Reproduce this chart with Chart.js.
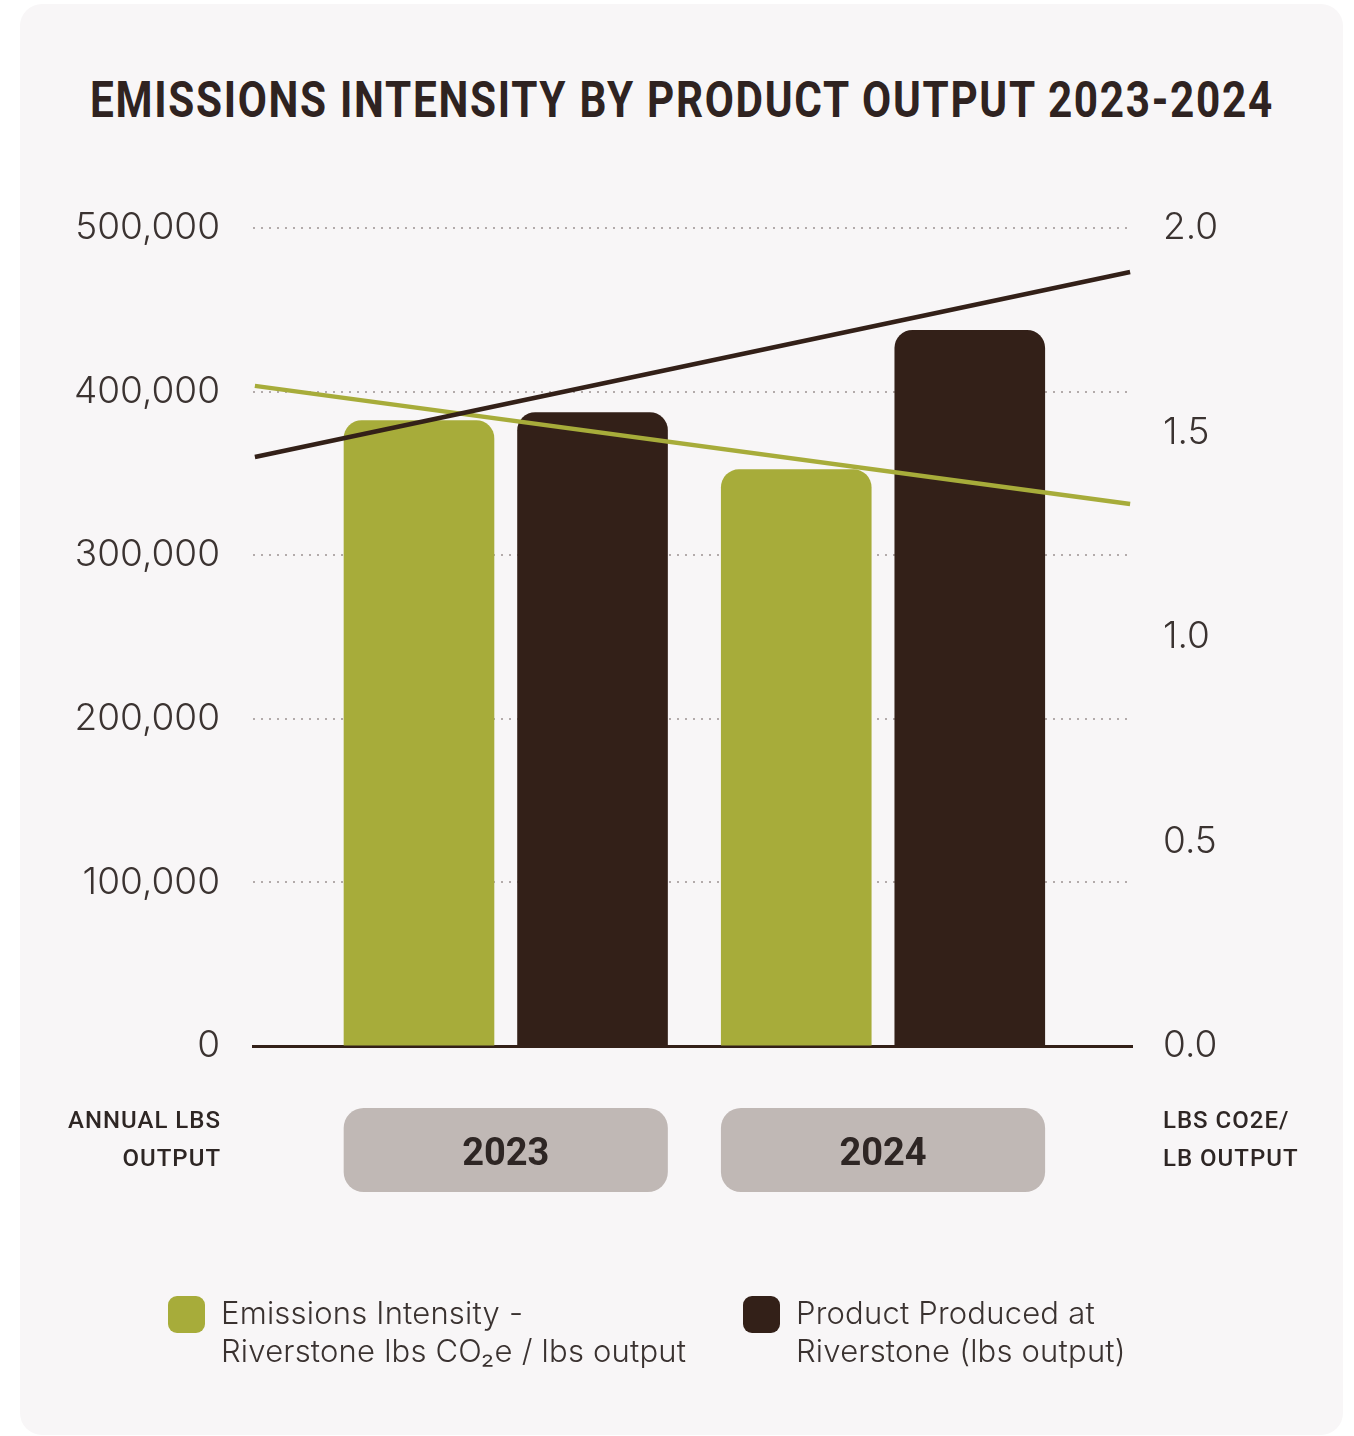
<!DOCTYPE html>
<html>
<head>
<meta charset="utf-8">
<script src="https://cdn.jsdelivr.net/npm/chart.js@4.4.1/dist/chart.umd.min.js"></script>
<style>
  body { margin: 0; background: #ffffff; font-family: Roboto, sans-serif; overflow: hidden; }
  .card { position: absolute; left: 20px; top: 4px; width: 1323px; height: 1431px; background: #f8f6f7; border-radius: 22px; }
  .title { position: absolute; left: -318px; top: 75px; width: 2000px; text-align: center; }
  .title span { display: inline-block; font-family: Roboto, sans-serif; font-weight: 700; font-size: 50px; line-height: 50px; letter-spacing: 2px; color: #2f2321; white-space: nowrap; transform-origin: center; }
  #chart { position: absolute; left: 0; top: 0; }
  .legend-item { position: absolute; top: 1294px; }
  .legend-item .box { position: absolute; left: 0; top: 2px; width: 37px; height: 37px; border-radius: 9px; }
  .legend-item .txt { position: absolute; left: 53px; top: 0; font-family: Inter, sans-serif; font-weight: 300; font-size: 31px; line-height: 38px; letter-spacing: 0.2px; color: #3a3230; white-space: nowrap; }
</style>
</head>
<body>
<div class="card"></div>
<div class="title"><span id="title">EMISSIONS INTENSITY BY PRODUCT OUTPUT 2023-2024</span></div>
<canvas id="chart" width="1354" height="1436"></canvas>
<div class="legend-item" id="leg0" style="left:168px"><div class="box"></div><div class="txt"></div></div>
<div class="legend-item" id="leg1" style="left:743px"><div class="box"></div><div class="txt"></div></div>
<script>
// data
const years = [2023, 2024]
const intensity = [1.53, 1.41]          // lbs CO2e / lb output (right axis)
const product = [387400, 437700]        // annual lbs output (left axis)
const trendX = [2022.335, 2024.655]
const intensityTrend = [1.614, 1.325]
const productTrend = [360000, 473100]
const leftTicks = [0, 100000, 200000, 300000, 400000, 500000]
const rightTicks = [0, 0.5, 1.0, 1.5, 2.0]
const leftTitle = ['ANNUAL LBS', 'OUTPUT']
const rightTitle = ['LBS CO2E/', 'LB OUTPUT']
const legendText = [
    ['Emissions Intensity -', 'Riverstone lbs CO\u2082e / lbs output'],
    ['Product Produced at', 'Riverstone (lbs output)']
]

const green = '#a7ac3a'
const brown = '#332018'
const textColor = '#3b3331'

// squeeze the title to the width it has in the reference
const titleEl = document.getElementById('title')
titleEl.style.transform = 'scaleX(' + (1184 / titleEl.offsetWidth) + ')'

const labelsPlugin = {
    id: 'labelsPlugin',
    afterDraw(chart) {
        const ctx = chart.ctx
        const area = chart.chartArea
        const greenMeta = chart.getDatasetMeta(0)
        const brownMeta = chart.getDatasetMeta(1)
        ctx.save()
        years.forEach((yr, i) => {
            const g = greenMeta.data[i]
            const b = brownMeta.data[i]
            const left = Math.min(g.x - g.width / 2, b.x - b.width / 2)
            const right = Math.max(g.x + g.width / 2, b.x + b.width / 2)
            const top = area.bottom + 62
            ctx.fillStyle = '#c0b8b5'
            ctx.beginPath()
            ctx.roundRect(left, top, right - left, 84, 20)
            ctx.fill()
            ctx.fillStyle = '#2e2624'
            ctx.font = '700 38px Roboto'
            ctx.textAlign = 'center'
            ctx.textBaseline = 'middle'
            ctx.fillText(String(yr), (left + right) / 2, top + 47)
        })
        ctx.font = '500 24px Roboto'
        ctx.letterSpacing = '1px'
        ctx.fillStyle = '#2e2624'
        ctx.textBaseline = 'alphabetic'
        const yL = chart.scales.y
        const yR = chart.scales.y1
        leftTitle.forEach((t, i) => {
            ctx.textAlign = 'right'
            ctx.fillText(t, yL.right - 32, area.bottom + 82 + i * 38)
        })
        rightTitle.forEach((t, i) => {
            ctx.textAlign = 'left'
            ctx.fillText(t, yR.left + 31, area.bottom + 82 + i * 38)
        })
        ctx.restore()
    }
}

const chart = new Chart(document.getElementById('chart'), {
    type: 'bar',
    data: {
        datasets: [
            {
                label: 'Emissions Intensity - Riverstone lbs CO\u2082e / lbs output',
                data: years.map((yr, i) => ({ x: yr, y: intensity[i] })),
                backgroundColor: green,
                yAxisID: 'y1',
                borderRadius: 18,
                borderSkipped: 'start',
                categoryPercentage: 0.92,
                barPercentage: 0.868,
                order: 2
            },
            {
                label: 'Product Produced at Riverstone (lbs output)',
                data: years.map((yr, i) => ({ x: yr, y: product[i] })),
                backgroundColor: brown,
                yAxisID: 'y',
                borderRadius: 18,
                borderSkipped: 'start',
                categoryPercentage: 0.92,
                barPercentage: 0.868,
                order: 3
            },
            {
                type: 'line',
                label: 'Emissions intensity trend',
                data: trendX.map((x, i) => ({ x: x, y: intensityTrend[i] })),
                borderColor: green,
                borderWidth: 4.5,
                pointRadius: 0,
                yAxisID: 'y1',
                order: 1
            },
            {
                type: 'line',
                label: 'Product trend',
                data: trendX.map((x, i) => ({ x: x, y: productTrend[i] })),
                borderColor: brown,
                borderWidth: 4.5,
                pointRadius: 0,
                yAxisID: 'y',
                order: 0
            }
        ]
    },
    options: {
        responsive: false,
        animation: false,
        layout: { padding: { top: 228, bottom: 390, left: 0, right: 0 } },
        plugins: {
            legend: { display: false },
            tooltip: { enabled: false }
        },
        scales: {
            x: {
                type: 'linear',
                offset: false,
                min: 2022.33,
                max: 2024.66,
                afterBuildTicks: (scale) => { scale.ticks = years.map(v => ({ value: v })) },
                afterFit: (scale) => { scale.height = 0 },
                ticks: { display: false },
                grid: { display: false, drawTicks: false },
                border: { display: true, color: brown, width: 3 }
            },
            y: {
                position: 'left',
                min: 0,
                max: 500000,
                afterBuildTicks: (scale) => { scale.ticks = leftTicks.map(v => ({ value: v })) },
                afterFit: (scale) => { scale.width = 253 },
                ticks: {
                    padding: 33,
                    color: textColor,
                    font: { family: 'Inter', size: 37, weight: 300 },
                    callback: (v) => v.toLocaleString('en-US')
                },
                grid: { color: '#b3abab', lineWidth: 2, drawTicks: false },
                border: { display: false, dash: [2, 6] }
            },
            y1: {
                position: 'right',
                min: 0,
                max: 2,
                afterBuildTicks: (scale) => { scale.ticks = rightTicks.map(v => ({ value: v })) },
                afterFit: (scale) => { scale.width = 222 },
                ticks: {
                    padding: 31,
                    color: textColor,
                    font: { family: 'Inter', size: 37, weight: 300 },
                    callback: (v) => Number(v).toFixed(1)
                },
                grid: { drawOnChartArea: false, drawTicks: false },
                border: { display: false }
            }
        }
    },
    plugins: [labelsPlugin]
})

// html legend from the two bar datasets
;[0, 1].forEach(i => {
    const el = document.getElementById('leg' + i)
    el.querySelector('.box').style.background = chart.data.datasets[i].backgroundColor
    el.querySelector('.txt').innerHTML = legendText[i].join('<br>')
})
</script>
</body>
</html>
